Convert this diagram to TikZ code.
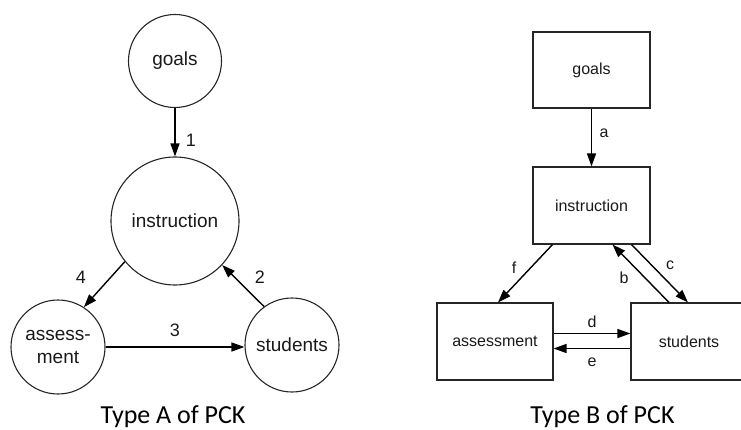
\documentclass[tikz,border=0pt]{standalone}
\usepackage{fontspec}
\setmainfont{Liberation Sans}
\newfontfamily\capfont{Carlito}
\usetikzlibrary{arrows.meta,shapes.geometric}
\begin{document}
\begin{tikzpicture}[x=1pt,y=-1pt,
  circ/.style={draw=black!85,line width=1.1pt,circle,inner sep=0pt,
    font=\fontsize{19}{23}\selectfont,text=black!90,align=center},
  boxn/.style={draw=black!85,line width=1.1pt,rectangle,inner sep=0pt,
    minimum width=117pt,minimum height=77pt,
    font=\fontsize{16}{19}\selectfont,text=black!90},
  conn/.style={line width=1.4pt,-{Triangle[length=13pt,width=9pt]}},
  lbl/.style={inner sep=0pt,text=black!90},
  lblA/.style={lbl,font=\fontsize{18}{20}\selectfont},
  lblB/.style={lbl,font=\fontsize{16}{18}\selectfont},
  caption/.style={inner sep=0pt,anchor=base,font=\capfont\fontsize{26}{30}\selectfont}]
\useasboundingbox (0,0) rectangle (741,430);

% Type A: circles
\node[circ,minimum size=93pt]  (ga) at (175,61)  {goals};
\node[circ,minimum size=128pt] (ia) at (175,221) {instruction};
\node[circ,minimum size=94pt]  (aa) at (58,347)  {assess-\\ment};
\node[circ,minimum size=94pt]  (sa) at (292,345) {students};

\draw[conn] (ga) -- (ia);
\draw[conn] (ia.219) -- (aa.57);
\draw[conn] (sa.126) -- (ia.317);
\draw[conn] (aa.east |- 0,347) -- (sa.west |- 0,347);

\node[lblA] (n1) at (191,140) {1};
\node[lblA] (n4) at (81,277)  {4};
\node[lblA] (n2) at (260,277) {2};
\node[lblA] (n3) at (175,330) {3};

\node[caption] (capA) at (173,423) {Type A of PCK};

% Type B: boxes
\node[boxn,minimum height=76pt] (gb) at (591.5,70)  {goals};
\node[boxn] (ib) at (591.5,205.5) {instruction};
\node[boxn,minimum width=116pt] (ab) at (495,341.5) {assessment};
\node[boxn,minimum width=116pt] (sb) at (689,341.5) {students};

\draw[conn] (gb) -- (ib);
\draw[conn] ([xshift=-39pt]ib.south) -- ([xshift=3pt]ab.north);
\draw[conn] ([xshift=-20pt]sb.north) -- ([xshift=21pt]ib.south);
\draw[conn] ([xshift=40pt]ib.south) -- ([xshift=-1pt]sb.north);
\draw[conn] ([yshift=8pt]ab.east) -- ([yshift=8pt]sb.west);
\draw[conn] ([yshift=-7pt]sb.west) -- ([yshift=-7pt]ab.east);

\node[lblB] (la) at (604,133) {a};
\node[lblB] (lf) at (514,268) {f};
\node[lblB] (lb) at (624,278) {b};
\node[lblB] (lc) at (670,265) {c};
\node[lblB] (ld) at (592,322) {d};
\node[lblB] (le) at (592,362) {e};

\node[caption] (capB) at (602.5,423) {Type B of PCK};
\end{tikzpicture}
\end{document}
